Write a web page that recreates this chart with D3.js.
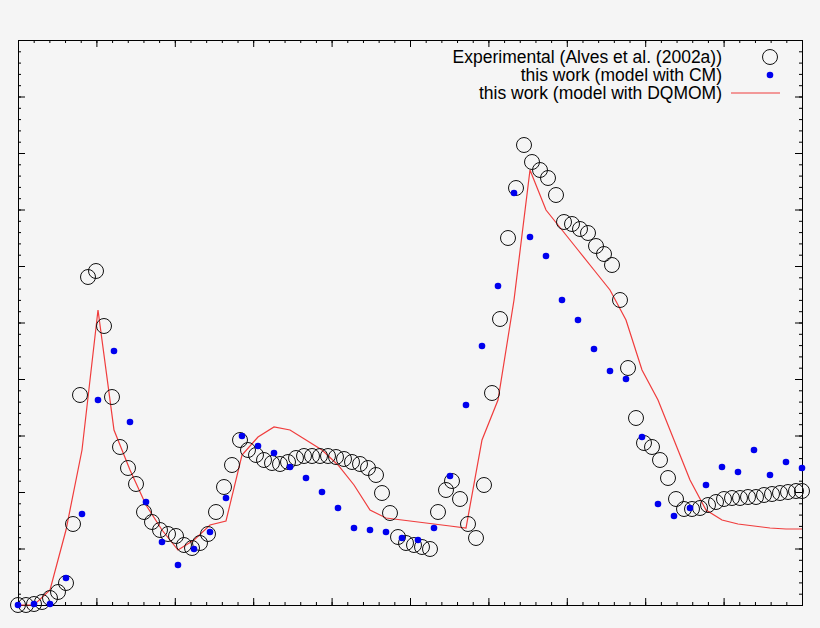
<!DOCTYPE html>
<html><head><meta charset="utf-8">
<script src="https://cdn.jsdelivr.net/npm/d3@7"></script>
<style>body{margin:0;background:#f5f5f5}</style>
</head><body>
<script>
// values (x: 0..784, y: height 0..565, arbitrary units)
var expX = [0,8,16,24,32,40,48,55,62,70,78,86,94,102,110,118,126,134,142,150,158,166,174,182,190,198,206,214,222,230,238,246,254,262,270,278,286,294,302,310,318,326,334,342,350,358,364,372,380,388,396,404,412,420,428,434,442,450,458,466,474,482,490,498,506,514,522,530,538,546,554,562,570,578,586,594,602,610,618,626,634,642,650,658,666,674,682,690,698,706,714,722,730,738,746,754,762,770,778,784];
var expY = [0,0,1,3,7,13,22,81,210,328,334,279,208,158,137,121,93,83,75,71,69,60,57,62,71,93,118,140,165,155,150,145,142,141,143,147,149,149,149,149,148,146,143,141,137,130,112,92,68,62,60,58,56,93,115,124,106,81,67,120,212,286,367,417,460,443,435,427,410,383,381,376,372,359,351,340,305,237,187,162,158,145,127,106,96,96,97,100,103,106,107,107,108,108,110,111,112,113,114,114];
var cmX = [0,16,32,48,64,80,96,112,128,144,160,176,192,208,224,240,256,272,288,304,320,336,352,368,384,400,416,432,448,464,480,496,512,528,544,560,576,592,608,624,640,656,672,688,704,720,736,752,768,784];
var cmY = [0,1,1,27,91,205,254,183,103,63,40,56,73,107,169,159,152,138,127,113,97,77,75,73,67,65,77,129,200,259,319,412,368,349,305,285,256,234,226,168,101,89,97,120,138,133,155,130,143,137];
var lnX = [0,16,32,48,64,80,96,112,128,144,160,176,192,208,224,240,256,272,288,304,320,336,352,368,384,400,416,432,448,464,480,496,512,528,544,560,576,592,608,624,640,656,672,688,704,720,736,752,768,784];
var lnY = [0,0,15,75,155,295,175,135,100,75,55,65,80,84,150,168,178,175,165,155,140,120,95,87,85,83,81,79,77,165,205,305,435,395,375,355,335,315,285,235,205,165,125,95,85,81,79,77,76,76];
var legendLabels = ["Experimental (Alves et al. (2002a))","this work (model with CM)","this work (model with DQMOM)"];

var W=820,H=628,m={l:18,r:18,t:40,b:23};
var svg=d3.select("body").append("svg").attr("width",W).attr("height",H);
svg.append("rect").attr("width",W).attr("height",H).attr("fill","#f5f5f5");
var x=d3.scaleLinear().domain([0,784]).range([m.l,W-m.r]);
var y=d3.scaleLinear().domain([0,565]).range([H-m.b,m.t]);
var g=svg.append("g");
var xt=d3.range(0,785,78.4), xm=d3.range(0,785,15.68);
var yt=d3.range(0,566,56.5), ym=d3.range(0,566,11.3);
g.append("g").attr("transform","translate(0,"+y(0)+")").call(d3.axisBottom(x).tickValues(xm).tickSize(-3).tickFormat(""));
g.append("g").attr("transform","translate(0,"+y(0)+")").call(d3.axisBottom(x).tickValues(xt).tickSize(-7).tickFormat(""));
g.append("g").attr("transform","translate(0,"+y(565)+")").call(d3.axisTop(x).tickValues(xm).tickSize(-3).tickFormat(""));
g.append("g").attr("transform","translate(0,"+y(565)+")").call(d3.axisTop(x).tickValues(xt).tickSize(-7).tickFormat(""));
g.append("g").attr("transform","translate("+x(0)+",0)").call(d3.axisLeft(y).tickValues(ym).tickSize(-3).tickFormat(""));
g.append("g").attr("transform","translate("+x(0)+",0)").call(d3.axisLeft(y).tickValues(yt).tickSize(-7).tickFormat(""));
g.append("g").attr("transform","translate("+x(784)+",0)").call(d3.axisRight(y).tickValues(ym).tickSize(-3).tickFormat(""));
g.append("g").attr("transform","translate("+x(784)+",0)").call(d3.axisRight(y).tickValues(yt).tickSize(-7).tickFormat(""));
g.selectAll("path.domain").attr("stroke","#000");
g.selectAll(".tick line").attr("stroke","#000");

svg.append("path").datum(d3.zip(lnX,lnY)).attr("fill","none").attr("stroke","#f03c3c").attr("stroke-width",1.2)
 .attr("d",d3.line().x(d=>x(d[0])).y(d=>y(d[1])));
svg.selectAll("circle.e").data(d3.zip(expX,expY)).enter().append("circle").attr("class","e")
 .attr("cx",d=>x(d[0])).attr("cy",d=>y(d[1])).attr("r",7.5).attr("fill","none").attr("stroke","#111").attr("stroke-width",1);
svg.selectAll("circle.c").data(d3.zip(cmX,cmY)).enter().append("circle").attr("class","c")
 .attr("cx",d=>x(d[0])).attr("cy",d=>y(d[1])).attr("r",3.3).attr("fill","#0000ee");

var lg=svg.append("g").attr("font-family","Liberation Sans, Arial, sans-serif").attr("font-size",17.5);
legendLabels.forEach(function(t,i){
 lg.append("text").attr("x",722).attr("y",63+i*18).attr("text-anchor","end").text(t);
});
lg.append("circle").attr("cx",770).attr("cy",57).attr("r",7.5).attr("fill","none").attr("stroke","#111");
lg.append("circle").attr("cx",770).attr("cy",75).attr("r",3.3).attr("fill","#0000ee");
lg.append("line").attr("x1",731).attr("x2",780).attr("y1",93).attr("y2",93).attr("stroke","#f03c3c").attr("stroke-width",1.2);
</script>
</body></html>
